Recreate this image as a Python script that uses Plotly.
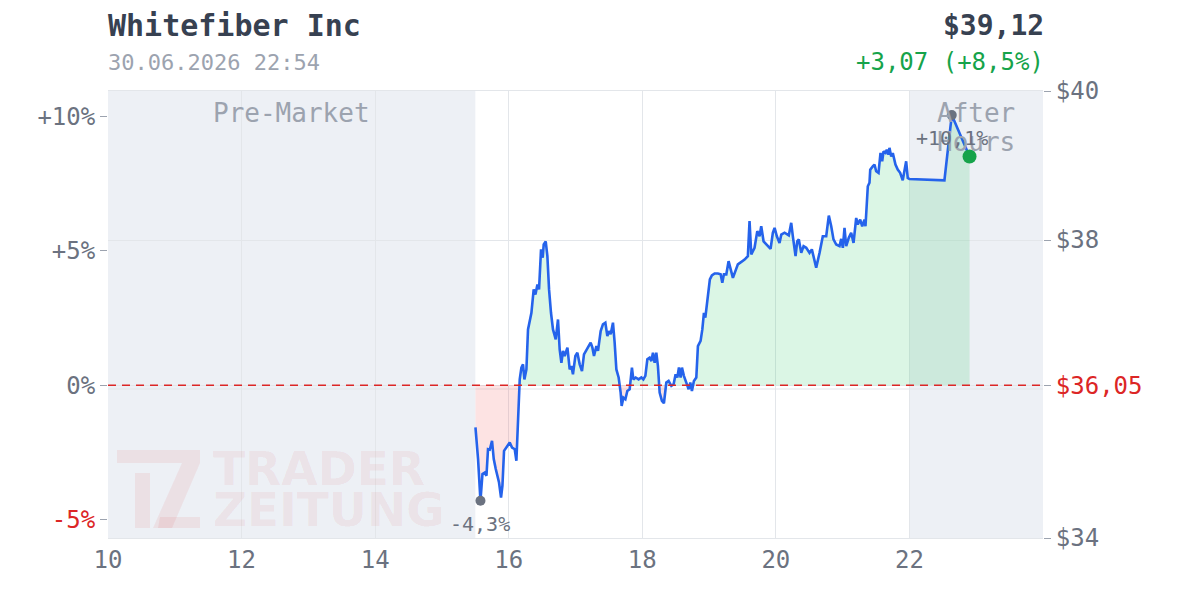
import numpy as np
import plotly.graph_objects as go

# ---------------- data ----------------
title = "Whitefiber Inc"
timestamp = "30.06.2026 22:54"
prev_close = 36.05

hours = [
    15.502, 15.541, 15.577, 15.607, 15.641, 15.667, 15.690, 15.716, 15.750, 15.776,
    15.806, 15.855, 15.885, 15.906, 15.930, 15.975, 16.015, 16.050, 16.090, 16.115,
    16.139, 16.165, 16.190, 16.214, 16.235, 16.265, 16.289, 16.340, 16.374, 16.400,
    16.430, 16.454, 16.484, 16.509, 16.524, 16.554, 16.579, 16.604, 16.633, 16.663,
    16.704, 16.738, 16.763, 16.789, 16.813, 16.838, 16.879, 16.913, 16.938, 16.962,
    16.998, 17.028, 17.063, 17.097, 17.127, 17.163, 17.197, 17.227, 17.253, 17.277,
    17.313, 17.337, 17.377, 17.411, 17.447, 17.477, 17.501, 17.527, 17.561, 17.586,
    17.612, 17.646, 17.676, 17.691, 17.717, 17.747, 17.776, 17.811, 17.845, 17.866,
    17.901, 17.945, 17.986, 18.016, 18.046, 18.076, 18.110, 18.136, 18.160, 18.185,
    18.210, 18.234, 18.260, 18.294, 18.324, 18.360, 18.394, 18.435, 18.469, 18.499,
    18.525, 18.549, 18.574, 18.594, 18.623, 18.659, 18.694, 18.719, 18.743, 18.773,
    18.809, 18.833, 18.873, 18.899, 18.923, 18.944, 18.968, 18.993, 19.012, 19.042,
    19.083, 19.132, 19.173, 19.198, 19.222, 19.258, 19.292, 19.357, 19.431, 19.532,
    19.581, 19.606, 19.632, 19.681, 19.722, 19.756, 19.781, 19.816, 19.856, 19.921,
    19.955, 19.981, 20.015, 20.055, 20.081, 20.130, 20.194, 20.230, 20.254, 20.295,
    20.320, 20.344, 20.380, 20.415, 20.455, 20.504, 20.539, 20.569, 20.604, 20.654,
    20.703, 20.754, 20.793, 20.829, 20.863, 20.904, 20.953, 20.979, 21.003, 21.028,
    21.053, 21.092, 21.128, 21.163, 21.203, 21.227, 21.263, 21.293, 21.327, 21.342,
    21.377, 21.402, 21.413, 21.451, 21.477, 21.502, 21.537, 21.567, 21.592, 21.612,
    21.642, 21.661, 21.686, 21.701, 21.727, 21.751, 21.791, 21.825, 21.861, 21.900,
    21.926, 21.951, 21.975, 22.000, 22.524, 22.634, 22.900,
]
change_pct = [
    -1.57, -2.75, -4.30, -3.30, -3.25, -3.37, -2.38, -2.40, -2.07, -2.75,
    -3.12, -3.62, -4.18, -3.74, -2.44, -2.26, -2.13, -2.32, -2.38, -2.81,
    -1.39, 0.22, 0.66, 0.78, 0.22, 0.59, 2.08, 2.70, 3.57, 3.38,
    3.75, 3.57, 5.06, 4.75, 5.24, 5.36, 4.81, 3.57, 2.70, 2.08,
    1.71, 2.45, 1.34, 0.84, 1.28, 1.09, 1.40, 0.59, 0.72, 0.41,
    1.09, 1.21, 0.78, 0.53, 1.15, 1.34, 1.46, 1.59, 1.40, 1.09,
    1.46, 1.28, 2.02, 2.27, 2.33, 1.83, 2.02, 1.90, 2.33, 1.59,
    0.59, 0.29, -0.27, -0.77, -0.46, -0.52, -0.21, -0.15, 0.66, 0.22,
    0.29, 0.22, 0.29, 0.22, 0.35, 0.97, 1.03, 0.90, 1.21, 0.84,
    1.21, 0.72, -0.27, -0.58, -0.67, 0.10, 0.16, -0.02, 0.04, 0.41,
    0.29, 0.66, 0.29, 0.66, 0.35, 0.10, -0.15, 0.10, -0.21, 0.16,
    0.29, 1.46, 1.65, 2.08, 2.70, 2.52, 2.95, 3.57, 3.94, 4.09,
    4.16, 4.16, 4.13, 3.82, 4.13, 4.13, 4.62, 4.00, 4.50, 4.68,
    4.81, 6.11, 4.87, 5.12, 5.74, 5.55, 5.92, 5.36, 5.24, 5.08,
    5.68, 5.86, 5.55, 5.30, 5.61, 5.68, 5.58, 6.05, 5.55, 4.81,
    5.36, 5.43, 4.93, 5.18, 5.12, 4.93, 5.06, 4.75, 4.38, 4.93,
    5.55, 5.55, 6.32, 5.92, 5.43, 5.24, 5.18, 5.45, 5.12, 5.86,
    5.18, 5.49, 5.68, 5.30, 6.23, 5.99, 6.17, 5.92, 6.17, 5.92,
    7.41, 7.54, 8.03, 8.15, 8.22, 7.97, 7.91, 8.65, 8.34, 8.71,
    8.65, 8.77, 8.59, 8.84, 8.52, 8.65, 8.22, 8.03, 7.91, 7.63,
    8.03, 8.34, 7.72, 7.68, 7.63, 10.06, 8.516,
]

x_ticks = [10, 12, 14, 16, 18, 20, 22]
pct_ticks = [-5, 0, 5, 10]
price_ticks = [34, 36.05, 38, 40]
sessions = [("Pre-Market", 10, 15.5), ("After Hours", 22, 24)]

# ---------------- derived ----------------
pct = np.array(change_pct)
x = np.array(hours)
price_lo, price_hi = 34, 40
pct_lo = (price_lo / prev_close - 1) * 100
pct_hi = (price_hi / prev_close - 1) * 100

last_pct = pct[-1]
last_price = prev_close * (1 + last_pct / 100)
abs_change = last_price - prev_close


def de(v, d=2):
    return f"{v:.{d}f}".replace(".", ",")


FONT = "DejaVu Sans Mono"
GRID = "#e3e6ea"
SHADE = "#edf0f5"
GRAY = "#6b7280"
RED = "#dc2626"
GREEN = "#16a34a"

# plot area in pixels
L, R, T, B = 108, 1043, 91, 538
W, H = 1200, 600


def px(xp):
    return (xp - L) / (R - L)


def py(yp):
    return (B - yp) / (B - T)


fig = go.Figure()

fig.add_trace(go.Scatter(x=x, y=np.maximum(pct, 0), mode="lines", line=dict(width=0),
                         fill="tozeroy", fillcolor="rgba(34,197,94,0.16)", hoverinfo="skip"))
fig.add_trace(go.Scatter(x=x, y=np.minimum(pct, 0), mode="lines", line=dict(width=0),
                         fill="tozeroy", fillcolor="rgba(239,68,68,0.15)", hoverinfo="skip"))
fig.add_trace(go.Scatter(x=x, y=pct, mode="lines", line=dict(color="#2563eb", width=2.6),
                         hoverinfo="skip"))

imin, imax = int(np.argmin(pct)), int(np.argmax(pct))
fig.add_trace(go.Scatter(x=[x[imin], x[imax]], y=[pct[imin], pct[imax]], mode="markers",
                         marker=dict(color=GRAY, size=10), hoverinfo="skip"))
fig.add_trace(go.Scatter(x=[x[-1]], y=[pct[-1]], mode="markers",
                         marker=dict(color=GREEN, size=14), hoverinfo="skip"))
# invisible trace to activate right price axis
fig.add_trace(go.Scatter(x=[x[-1]], y=[last_price], yaxis="y2", mode="markers",
                         marker=dict(opacity=0), hoverinfo="skip"))

shapes = []
for _, a, b in sessions:
    shapes.append(dict(type="rect", xref="x", yref="paper", x0=a, x1=b, y0=0, y1=1,
                       fillcolor=SHADE, line=dict(width=0), layer="below"))
shapes.append(dict(type="line", xref="paper", yref="y2", x0=0, x1=1, y0=36, y1=36,
                   line=dict(color=GRID, width=1), layer="below"))
shapes.append(dict(type="line", xref="paper", yref="y", x0=0, x1=1, y0=0, y1=0,
                   line=dict(color=RED, width=1.5, dash="8px,6px"), layer="above"))

# watermark logo
WM = "rgba(220,38,38,0.08)"


def poly(pts):
    return "M " + " L ".join(f"{px(a):.5f},{py(b):.5f}" for a, b in pts) + " Z"


for pts in [
    [(117, 450), (200, 450), (200, 463), (117, 463)],
    [(135, 473), (150, 473), (150, 528), (135, 528)],
    [(182, 463), (200, 463), (172, 528), (153, 528)],
    [(160, 517), (200, 517), (200, 528), (158, 528)],
]:
    shapes.append(dict(type="path", xref="paper", yref="paper", path=poly(pts),
                       fillcolor=WM, line=dict(width=0), layer="below"))

ann = []


def text(t, xp, yp, size, color, anchor="left", family=FONT, xshift=0):
    ann.append(dict(text=t, x=px(xp), y=py(yp), xref="paper", yref="paper",
                    xanchor=anchor, yanchor="middle", showarrow=False, xshift=xshift,
                    font=dict(family=family, size=size, color=color)))


text(f"<b>{title}</b>", 108, 25, 30, "#374151", xshift=-2)
text(timestamp, 108, 63, 22, "#9ca3af", xshift=-2)
text(f"<b>${de(last_price)}</b>", 1043, 25, 28, "#374151", anchor="right", xshift=3)
text(f"{'+' if abs_change >= 0 else '-'}{de(abs(abs_change))} "
     f"({'+' if last_pct >= 0 else '-'}{de(abs(last_pct), 1)}%)",
     1043, 62, 24, GREEN, anchor="right", xshift=3)

for label, a, b in sessions:
    for k, word in enumerate(label.split(" ") if label.startswith("After") else [label]):
        ann.append(dict(text=word, x=(a + b) / 2, y=py(113 + 29 * k), xref="x",
                        yref="paper", xanchor="center", yanchor="middle",
                        showarrow=False, font=dict(family=FONT, size=26, color="#9ca3af")))
for i in (imin, imax):
    ann.append(dict(text=f"{pct[i]:+.1f}%".replace(".", ","), x=x[i], y=pct[i], xref="x",
                    yref="y", yshift=-23, showarrow=False, xanchor="center",
                    yanchor="middle", font=dict(family=FONT, size=20, color=GRAY)))
# watermark text
text("<b>TRADER</b>", 211, 468, 47, WM, family="DejaVu Sans")
text("<b>ZEITUNG</b>", 211, 509, 47, WM, family="DejaVu Sans")


def pct_label(v):
    s = "0%" if v == 0 else f"{v:+d}%"
    return f'<span style="color:{RED}">{s}</span>' if v < 0 else s


def price_label(v):
    s = "$" + (de(v) if abs(v - prev_close) < 1e-9 else f"{v:g}")
    return f'<span style="color:{RED}">{s}</span>' if abs(v - prev_close) < 1e-9 else s


fig.update_layout(
    width=W, height=H,
    margin=dict(l=L, r=W - R, t=T, b=H - B),
    paper_bgcolor="white", plot_bgcolor="white",
    showlegend=False,
    font=dict(family=FONT, size=24, color=GRAY),
    xaxis=dict(range=[10, 24], tickvals=x_ticks, ticktext=[str(v) for v in x_ticks],
               showgrid=True, gridcolor=GRID, gridwidth=1, zeroline=False,
               showline=True, linecolor=GRID, mirror=True, ticks="",
               tickfont=dict(size=24, color=GRAY)),
    yaxis=dict(range=[pct_lo, pct_hi], tickvals=pct_ticks,
               ticktext=[pct_label(v) for v in pct_ticks], showgrid=False, zeroline=False,
               ticks="outside", ticklen=7, tickcolor="#9ca3af", showline=False,
               tickfont=dict(size=24, color=GRAY)),
    yaxis2=dict(range=[price_lo, price_hi], overlaying="y", side="right",
                tickvals=price_ticks, ticktext=[price_label(v) for v in price_ticks],
                showgrid=True, gridcolor=GRID, zeroline=False, ticks="outside",
                ticklen=7, tickcolor="#9ca3af", showline=False,
                tickfont=dict(size=24, color=GRAY)),
    shapes=shapes,
    annotations=ann,
)

fig.write_html("out.html")
